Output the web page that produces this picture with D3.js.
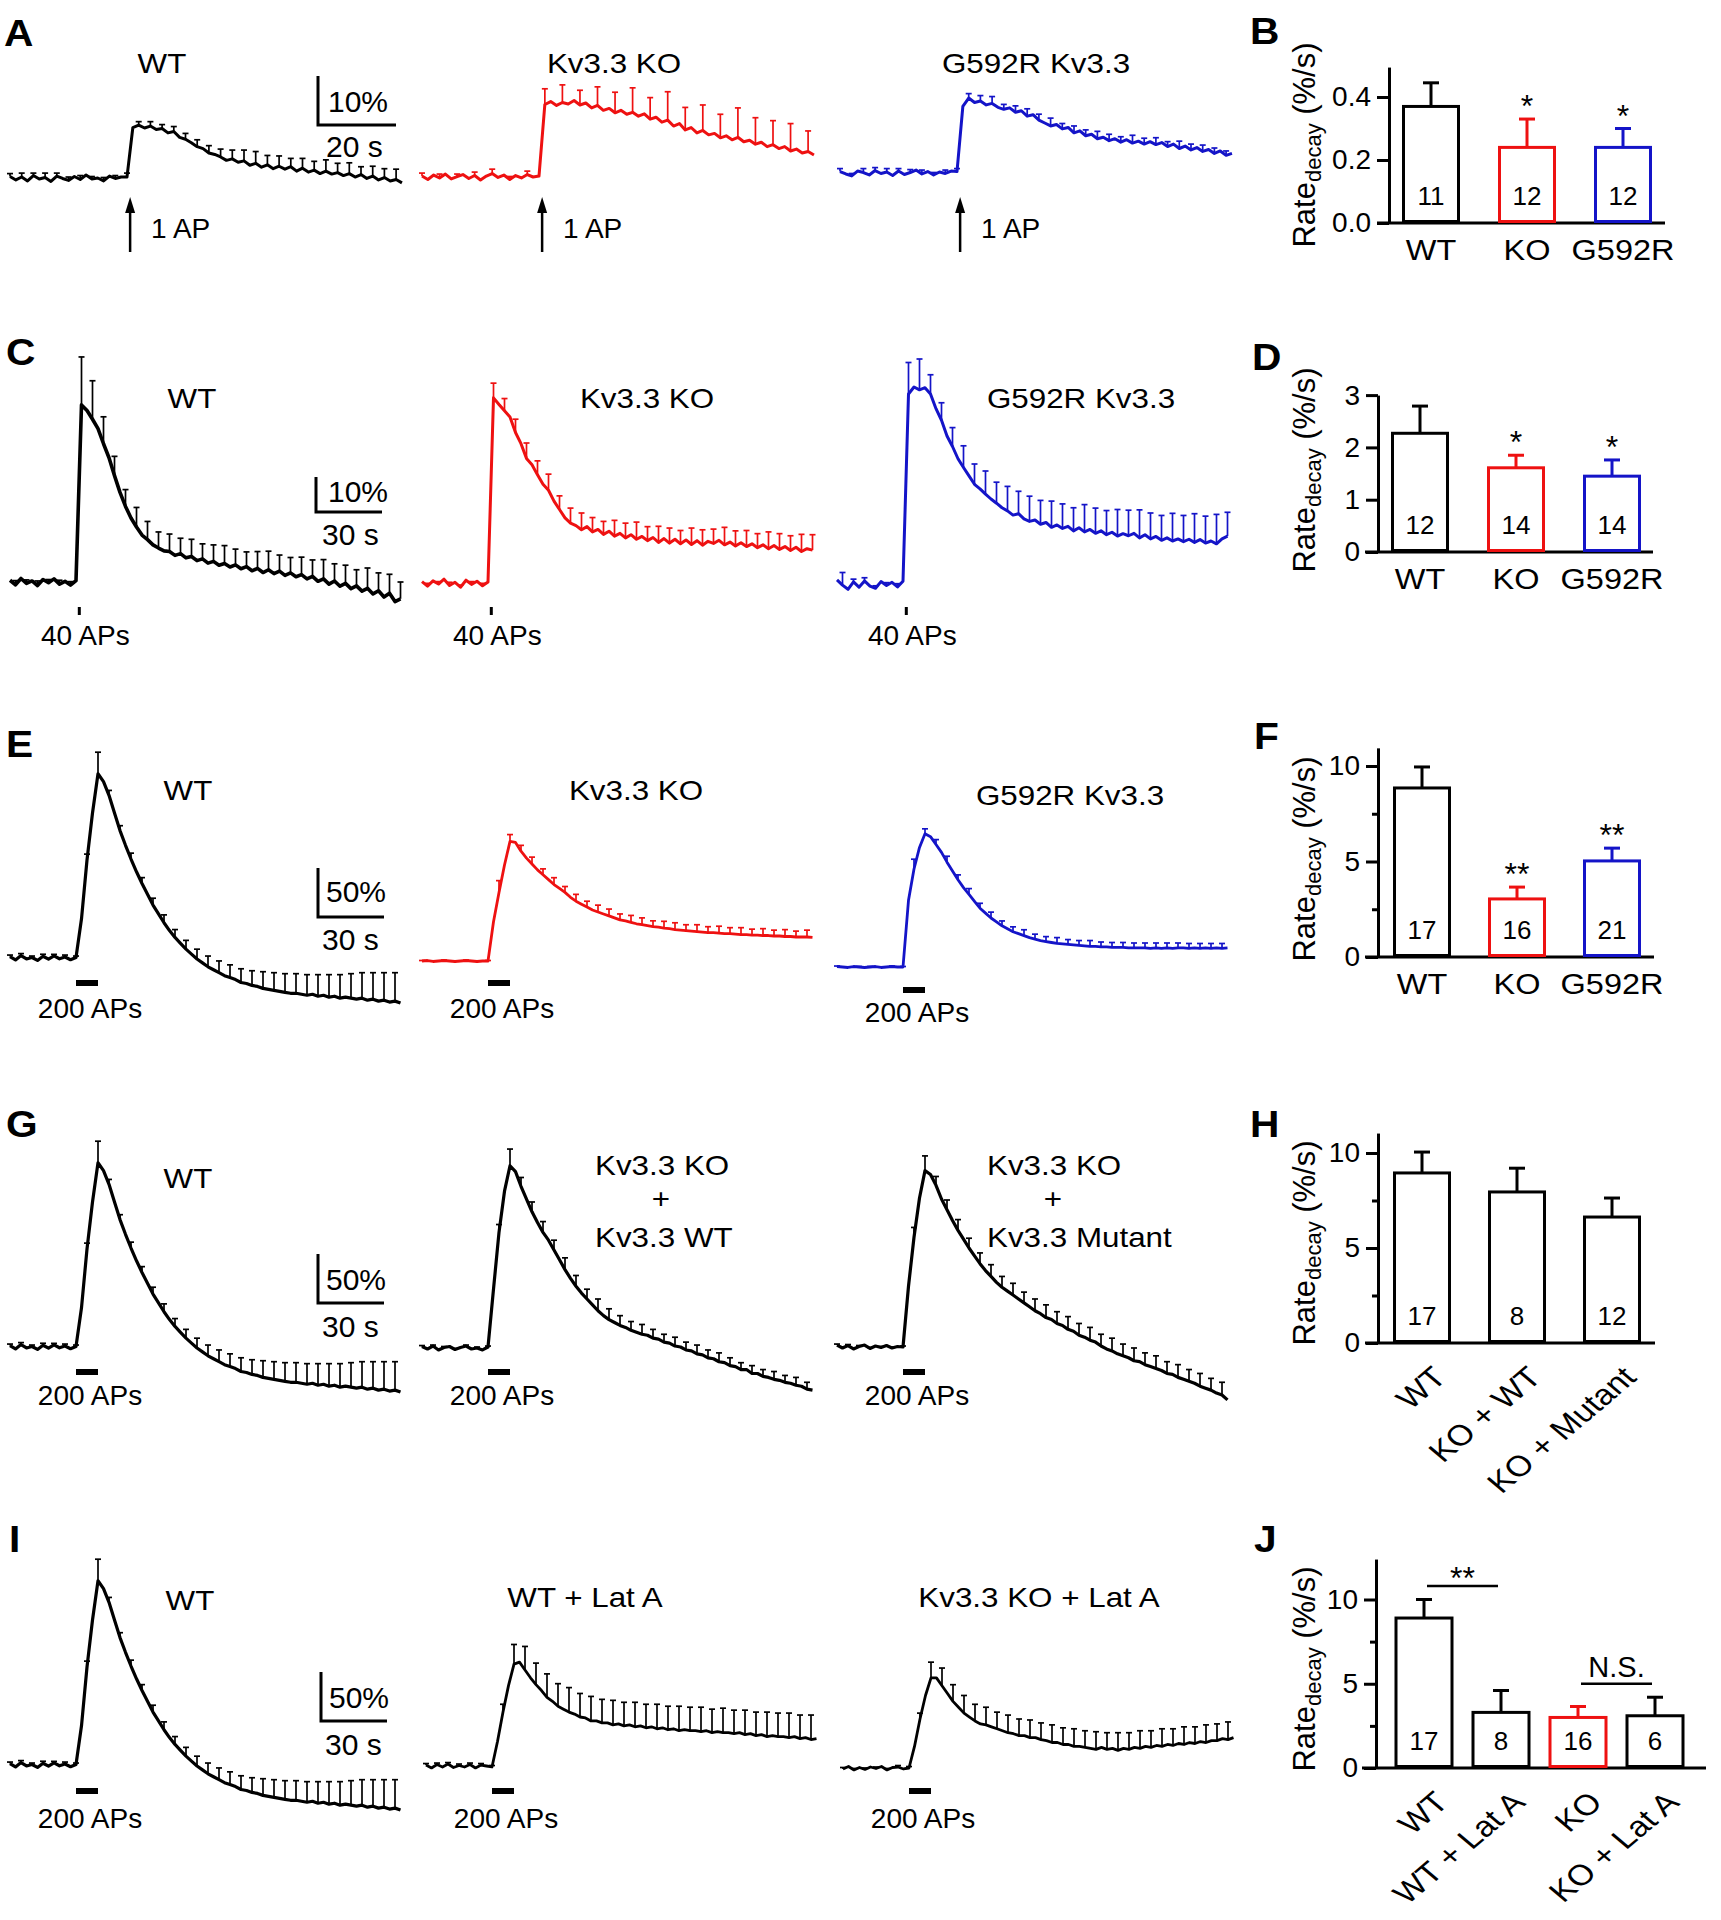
<!DOCTYPE html>
<html><head><meta charset="utf-8">
<script src="https://cdn.jsdelivr.net/npm/d3@7"></script>
<style>body{margin:0;background:#fff}</style>
</head><body>
<svg id="fig" width="1721" height="1920" xmlns="http://www.w3.org/2000/svg"></svg>
<script>
// ================= DATA =================
// Row A: 1 AP, sampled every 1.5 s (values in % dF/F)
const a_wt = [0.3,-0.4,0.2,-0.6,0.5,-0.2,0.1,-0.7,0.4,-0.1,-0.5,0.3,-0.3,0.6,-0.2,0.0,-0.6,0.4,-0.1,0.2,0.2,
 10.3,10.8,10.2,10.6,9.9,10.1,
 9.2,9.5,8.3,7.9,7.2,6.4,
 6.0,5.1,4.8,4.3,3.6,3.9,
 3.2,3.5,2.6,3.0,2.2,2.7,1.9,2.4,
 1.8,2.3,1.4,2.0,1.2,1.6,0.9,1.4,0.8,1.1,
 0.5,0.9,0.2,0.7,-0.1,0.4,-0.4,0.1,-0.6,-0.3,-1.0];
const a_wt_err = [0.6,0.8,0.5,0.9,0.6,0.7,0.8,0.5,0.7,0.6,0.8,0.7,0.9,0.8,1.0,1.2,1.4,1.5,1.6,1.8,2.2,2.4,1.9,2.1,1.7,2.0,1.8,2.3,1.9,2.2,1.6,2.0,1.8,2.1];
const a_ko = [0.2,-0.5,0.4,-0.2,0.6,-0.4,0.1,0.5,-0.3,0.3,-0.6,0.2,0.7,-0.1,0.4,-0.5,0.3,-0.2,0.5,0.0,0.2,
 14.8,15.4,14.6,15.2,14.9,15.6,14.7,15.1,
 14.1,14.6,13.6,14.0,13.1,13.6,12.8,13.2,
 12.4,12.9,11.8,12.2,11.2,11.6,10.4,10.9,
 9.6,10.1,9.0,9.5,8.6,8.9,8.0,8.4,
 7.6,8.1,7.2,7.5,6.7,7.1,6.2,6.6,
 5.8,6.2,5.3,5.7,4.9,5.2,4.5];
const a_ko_err = [0.6,0.8,0.5,0.7,0.9,0.6,0.7,3.2,3.6,3.0,3.8,4.2,5.0,4.4,5.8,4.6,5.2,4.8,6.0,5.4,4.9,5.6,4.2];
const a_g = [0.3,-0.2,-0.6,0.4,0.1,-0.4,0.5,-0.1,0.2,-0.5,0.4,-0.3,0.1,0.6,-0.2,0.3,-0.4,0.2,-0.1,0.4,0.3,
 13.6,15.3,14.4,14.7,13.9,14.2,13.4,13.0,
 13.3,12.4,12.7,11.6,11.9,10.8,10.2,9.6,
 9.9,9.0,9.3,8.2,8.6,7.6,7.9,7.0,
 7.3,6.6,7.0,6.3,6.8,6.1,6.5,5.9,
 6.4,5.8,6.2,5.4,5.9,5.0,5.5,4.7,
 5.2,4.4,4.8,4.0,4.5,3.6,4.0];
const a_g_err = [0.6,0.5,0.8,0.6,0.7,0.5,0.6,0.8,0.5,0.7,0.6,0.9,1.1,1.4,1.0,1.3,1.5,1.2,1.6,1.1,1.4,1.2,1.5,1.3,1.1,1.6,1.2,1.4,1.0,1.5,1.2,1.3,1.1,0.9];

// Row C: 40 APs, sampled every 2.5 s
const c_wt = [0.5,-0.8,1.0,-0.4,0.3,-1.0,0.7,-0.2,0.9,-0.6,0.2,-0.9,0.4,
 50.6,49.0,46.5,43.8,39.5,35.5,30.4,25.6,
 21.6,18.3,15.7,13.4,12.1,10.6,9.7,8.9,
 8.7,7.6,8.1,6.9,7.3,6.1,6.6,5.4,5.9,4.8,5.3,4.3,
 4.9,3.8,4.4,3.2,3.9,2.7,3.5,2.4,3.1,1.9,2.6,1.5,
 2.1,0.9,1.6,0.2,0.9,-0.6,0.3,-1.2,-0.4,-1.9,-1.1,
 -2.6,-1.8,-3.4,-2.5,-4.3,-3.2,-5.6,-4.8];
const c_wt_err = [1.2,1.0,1.3,0.9,1.1,1.0,13.7,11.0,7.7,5.5,4.8,5.6,5.2,4.6,5.0,4.4,4.9,4.3,4.7,5.1,4.5,4.2,4.8,5.3,4.6,4.4,5.0,4.7,5.5,4.9,5.2,4.6,5.8,5.1,5.4,4.8];
const c_ko = [0.4,-0.9,0.6,-0.3,1.1,-0.7,0.2,-1.2,0.8,-0.4,0.5,-0.8,0.3,
 52.9,51.0,49.2,47.4,43.0,39.8,35.6,33.8,
 30.9,28.2,26.5,23.4,21.0,18.6,17.1,16.4,
 15.2,16.1,14.6,15.3,13.9,14.8,13.4,14.2,12.9,13.8,12.5,13.3,
 12.1,13.0,11.6,12.7,11.4,12.5,11.2,12.3,11.0,12.1,10.8,11.9,
 11.3,12.2,10.9,11.7,10.6,11.5,10.4,11.2,10.1,10.9,9.8,
 10.7,9.6,10.4,9.3,10.2,9.0,9.8,9.4];
const c_ko_err = [0.8,0.7,0.9,0.6,0.8,0.7,4.2,3.5,3.8,4.4,4.0,4.6,3.9,4.3,4.8,4.1,3.7,4.5,4.2,4.9,4.0,4.6,4.3,3.8,4.7,4.4,4.1,5.0,4.3,4.6,4.0,4.8,4.5,4.2,4.9,4.4];
const c_g = [0.9,-0.6,-1.8,0.3,-1.2,0.6,-0.9,-1.5,0.4,-0.7,0.2,-1.1,0.5,
 54.0,56.0,55.2,55.8,54.0,49.8,46.5,42.0,
 39.0,35.5,33.0,30.6,28.2,26.9,25.4,24.0,
 22.8,21.5,20.6,19.4,19.8,18.3,17.6,18.0,16.8,17.3,15.9,16.6,
 15.6,16.2,14.9,15.8,14.6,15.3,14.2,14.9,13.8,14.5,13.4,14.1,
 13.5,14.2,12.9,13.8,12.6,13.3,12.2,12.9,12.0,12.6,11.8,
 12.5,11.6,12.4,11.4,12.0,11.2,12.6,13.4];
const c_g_err = [3.6,0.8,0.9,0.7,0.8,0.9,9.0,8.8,5.5,5.0,5.4,6.2,5.8,6.6,6.0,7.0,6.4,7.2,6.8,7.5,7.0,6.6,7.8,7.2,6.9,7.6,7.3,8.0,7.4,7.1,7.9,7.5,8.2,7.7,8.4,6.8];

// Rows E, G, I: 200 APs, sampled every 2.5 s
const wt200 = [1.5,-2.0,2.5,-1.0,0.5,-2.5,1.8,-1.2,2.2,-0.8,1.0,-1.8,0.5,
 40,100,148,188,180,
 166,148,130,115,101,88,76,65,54,45,36,28,21,15,9,4,
 -1,-5,-9,-12,-15,-18,-20,-22,-25,-26,-28,-29,-31,-32,-33,-34,-35,-36,-36,
 -37,-38,-37,-39,-38,-40,-39,-41,-40,-41,-42,-41,-43,-42,-44,-43,-45,-44,-46];
const wt200_err = [1.5,2,1.5,2,1.5,2,1.5,6,22,5,5,6,6,7,8,8,9,10,11,12,13,14,15,17,18,19,20,21,22,23,24,25,26,27,28,29];
const ko200 = [0,0.5,-0.5,0,0.5,0,-0.5,0,0.5,0,-0.5,0,0,
 40,70,98,122,121,112,105,99,93,88,83,78,74,70,65,61,58,55,52,50,48,46,44,42,41,39.5,38,37,36,35,
 34.5,33.5,33,32,31.5,31,30.5,30,29.5,29,29,28.5,28,28,27.5,27,27,26.5,26.5,26,26,25.5,25.5,25,25,24.5,24.5,24.5,24];
const ko200_err = [0.5,0.5,0.5,0.5,0.5,0.5,0.5,12,7,6,7,6,7,6,7,6,7,7,6,7,7,6,7,7,6,7,6,7,6,7,6,7,6,7,6,7];
const g200 = [0.5,0,-0.5,0.5,0,-0.5,0,0.5,-0.5,0,0.5,0,0,
 68,100,122,136,133,125,117,107,98,89,81,74,67,60,55,50,46,42,39,36,34,32,30,28.5,27,26,25,24,23.5,23,
 22.5,22,21.5,21,21,20.5,20.5,20,20,20,19.5,19.5,19.5,19.5,19,19.5,19,19.5,19,19.5,19.5,19,19.5,19,19.5,19,19.5,19,19.5];
const g200_err = [0.5,0.5,0.5,0.5,0.5,0.5,0.5,10,5,5,6,5,6,5,6,5,5,6,5,5,6,5,5,6,5,5,5,5,5,5,5,5,5,5,5,5];
const kowt200 = [1.5,-1.0,2.0,-2.0,0.5,1.5,-1.5,0.5,2.0,-1.0,0.0,-2.0,1.0,
 60,118,160,186,180,165,152,139,128,118,110,100,90,80,71,63,56,50,44,38,33,29,26,23,21,18,16,14,13,10,
 9,6,5,2,1,-2,-3,-6,-7,-10,-11,-14,-15,-18,-19,-22,-22,-26,-26,-29,-30,-32,-33,-35,-36,-38,-39,-42,-43];
const kowt200_err = [1,1,1,1,1,1,1,8,17,9,10,11,10,12,11,10,12,11,10,9,10,9,8,9,8,9,8,9,8,7,8,7,8,7,8,7];
const mut200 = [2,-1,1.5,-2,0.5,2,-1.5,1,-0.5,1.5,-1,0.5,0,
 62,112,152,180,176,165,151,140,129,119,110,101,93,85,78,72,66,61,57,53,49,45,41,37,34,30,28,24,22,18,
 16,12,10,7,5,1,-2,-4,-7,-9,-11,-14,-15,-18,-20,-22,-24,-27,-28,-31,-33,-35,-37,-40,-42,-44,-47,-49,-54];
const mut200_err = [1,1,1,1,1,1,1,10,15,9,10,11,10,11,12,11,12,11,12,13,12,13,12,13,12,13,12,13,12,13,12,13,12,13,12,13];
const wtlat200 = [1,-2,1.5,-1,2,-1.5,0.5,-1,1.5,-2,1,0,-1,
 25,55,82,104,106,98,90,83,77,70,66,61,58,55,53,50,49,46,46,44,44,42,43,41,42,40,41,39,40,38,
 39,37,38,36,37,36,36,35,36,34,35,34,34,33,34,32,33,31,32,30,31,30,30,29,30,28,29,27,28];
const wtlat200_err = [1.5,1.5,1.5,1.5,1.5,1.5,1.5,8,20,24,22,24,23,25,24,25,24,25,24,25,24,25,24,25,24,25,24,25,24,25,24,25,24,25,24,25];
const kolat200 = [-1,1.5,-2,0.5,-1.5,1,-0.5,1.5,-2,0.5,1,-1,0,
 22,50,74,92,92,84,76,68,62,56,52,48,45,44,42,40,38,36,35,33,33,31,31,29,28,26,26,24,24,22,
 22,21,20,19,21,19,20,18,20,19,21,20,22,21,23,22,24,23,25,24,26,25,27,26,28,28,30,29,31];
const kolat200_err = [1.5,1.5,1.5,1.5,1.5,1.5,1.5,6,16,18,17,18,17,18,17,18,17,18,17,18,17,18,17,18,17,18,17,18,17,18,17,18,17,18,17,18];

// Bar charts (Rate_decay, %/s)
const bCats = ["WT","KO","G592R"], bVals = [0.37,0.24,0.24], bSems = [0.075,0.09,0.06], bN = ["11","12","12"], bSig = ["","*","*"];
const dCats = ["WT","KO","G592R"], dVals = [2.27,1.61,1.45], dSems = [0.52,0.24,0.31], dN = ["12","14","14"], dSig = ["","*","*"];
const fCats = ["WT","KO","G592R"], fVals = [8.85,3.04,5.03], fSems = [1.1,0.62,0.67], fN = ["17","16","21"], fSig = ["","**","**"];
const hCats = ["WT","KO + WT","KO + Mutant"], hVals = [8.95,7.95,6.63], hSems = [1.1,1.25,1.0], hN = ["17","8","12"], hSig = ["","",""];
const jCats = ["WT","WT + Lat A","KO","KO + Lat A"], jVals = [8.9,3.3,3.0,3.1], jSems = [1.1,1.3,0.65,1.1], jN = ["17","8","16","6"], jSig = ["","","",""];
const jComps = [["WT","WT + Lat A","**",10.8],["KO","KO + Lat A","N.S.",5.0]];
const ticksB = [0,0.2,0.4], ticksD = [0,1,2,3], ticks10 = [0,5,10], minor10 = [2.5,7.5];

// ================= DRAWING =================
const FONT = '"Liberation Sans", Arial, Helvetica, sans-serif';
const BLACK = "#000", RED = "#ee1111", BLUE = "#1414c8";
const svg = d3.select("#fig");

function txt(x, y, s, o = {}) {
  return svg.append("text")
    .attr("transform", `translate(${x},${y}) scale(${o.sx ?? 1.06},1)`)
    .attr("text-anchor", o.anchor || "start")
    .attr("font-family", FONT)
    .attr("font-size", o.size || 28)
    .attr("font-weight", o.weight || "normal")
    .attr("fill", o.color || BLACK)
    .text(s);
}

function drawTrace(c) {
  const n = c.values.length, tmax = (n - 1) * c.dt;
  const x = d3.scaleLinear().domain([0, tmax]).range([c.x0, c.x0 + tmax * c.pxS]);
  const y = d3.scaleLinear().domain([0, 100]).range([c.y0, c.y0 - 100 * c.pxP]);
  const g = svg.append("g").attr("stroke", c.color).attr("fill", "none");
  const eb = c.errs.map((e, k) => ({ i: c.off + k * c.every, e })).filter(d => d.i < n);
  g.selectAll("line.e").data(eb).join("line")
    .attr("x1", d => x(d.i * c.dt)).attr("x2", d => x(d.i * c.dt))
    .attr("y1", d => y(c.values[d.i])).attr("y2", d => y(c.values[d.i] + d.e))
    .attr("stroke-width", 1.7);
  g.selectAll("line.c").data(eb).join("line")
    .attr("x1", d => x(d.i * c.dt) - 3).attr("x2", d => x(d.i * c.dt) + 3)
    .attr("y1", d => y(c.values[d.i] + d.e)).attr("y2", d => y(c.values[d.i] + d.e))
    .attr("stroke-width", 1.7);
  g.append("path").datum(c.values)
    .attr("d", d3.line().x((d, i) => x(i * c.dt)).y(d => y(d)))
    .attr("stroke-width", c.sw || 2.8).attr("stroke-linejoin", "round");
  return { x, y };
}

function scaleBar(sc, cx, cy, sec, pct, lp, ls, pPos, sPos) {
  const w = sc.x(sec) - sc.x(0), h = sc.y(0) - sc.y(pct);
  svg.append("path").attr("d", `M${cx},${cy - h}V${cy}H${cx + w}`)
    .attr("fill", "none").attr("stroke", BLACK).attr("stroke-width", 3);
  txt(pPos[0], pPos[1], lp, { size: 30, sx: 1.0 });
  txt(sPos[0], sPos[1], ls, { size: 30, sx: 1.0 });
}

// ---- Row A ----
const rowA = { dt: 1.5, pxS: 3.9, pxP: 4.9 };
const aPanels = [
  { values: a_wt, errs: a_wt_err, every: 2, off: 0, x0: 10, y0: 178, color: BLACK },
  { values: a_ko, errs: a_ko_err, every: 3, off: 0, x0: 422, y0: 177, color: RED },
  { values: a_g, errs: a_g_err, every: 2, off: 0, x0: 840, y0: 173, color: BLUE }];
const aSc = aPanels.map(p => drawTrace({ ...rowA, ...p, sw: 3.0 }));
aSc.forEach(sc => {
  const ax = sc.x(30.8);
  svg.append("line").attr("x1", ax).attr("x2", ax).attr("y1", 252).attr("y2", 210)
    .attr("stroke", BLACK).attr("stroke-width", 2.5);
  svg.append("path").attr("d", `M${ax},197L${ax - 5},213L${ax + 5},213Z`).attr("fill", BLACK);
  txt(ax + 21, 238, "1 AP", { sx: 1.0 });
});
scaleBar(aSc[0], 318, 125, 20, 10, "10%", "20 s", [328, 112], [326, 157]);
txt(162, 73, "WT", { anchor: "middle", sx: 1.12 });
txt(614, 73, "Kv3.3 KO", { anchor: "middle", sx: 1.12 });
txt(1036, 73, "G592R Kv3.3", { anchor: "middle", sx: 1.12 });

// ---- Row C ----
const rowC = { dt: 2.5, pxS: 2.2, pxP: 3.5, every: 2, off: 1 };
const cPanels = [
  { values: c_wt, errs: c_wt_err, x0: 10, y0: 582, color: BLACK, sw: 3.6 },
  { values: c_ko, errs: c_ko_err, x0: 422, y0: 583, color: RED, sw: 3.0 },
  { values: c_g, errs: c_g_err, x0: 837, y0: 583, color: BLUE, sw: 3.0 }];
const cSc = cPanels.map(p => drawTrace({ ...rowC, ...p }));
cSc.forEach(sc => {
  const sx = sc.x(31.5);
  svg.append("rect").attr("x", sx - 1.5).attr("y", 607).attr("width", 3).attr("height", 8).attr("fill", BLACK);
  txt(sx + 6, 645, "40 APs", { anchor: "middle", sx: 1.0 });
});
scaleBar(cSc[0], 316, 512, 30, 10, "10%", "30 s", [328, 502], [322, 545]);
txt(192, 408, "WT", { anchor: "middle", sx: 1.12 });
txt(647, 408, "Kv3.3 KO", { anchor: "middle", sx: 1.12 });
txt(1081, 408, "G592R Kv3.3", { anchor: "middle", sx: 1.12 });

// ---- Rows E, G, I ----
const row200 = { dt: 2.5, pxS: 2.2, pxP: 0.98, every: 2, off: 0 };
function stimBar(sc, y, ty) {
  svg.append("rect").attr("x", sc.x(30)).attr("y", y).attr("width", sc.x(40) - sc.x(30)).attr("height", 6).attr("fill", BLACK);
  txt(sc.x(35) + 3, ty, "200 APs", { anchor: "middle", sx: 1.0 });
}
const ePanels = [
  { values: wt200, errs: wt200_err, x0: 10, y0: 958, color: BLACK, sw: 3.2 },
  { values: ko200, errs: ko200_err, x0: 422, y0: 961, color: RED },
  { values: g200, errs: g200_err, x0: 837, y0: 967, color: BLUE }];
const eSc = ePanels.map(p => drawTrace({ ...row200, ...p }));
stimBar(eSc[0], 980, 1018); stimBar(eSc[1], 980, 1018); stimBar(eSc[2], 987, 1022);
scaleBar(eSc[0], 318, 917, 30, 50, "50%", "30 s", [326, 902], [322, 950]);
txt(188, 800, "WT", { anchor: "middle", sx: 1.12 });
txt(636, 800, "Kv3.3 KO", { anchor: "middle", sx: 1.12 });
txt(1070, 805, "G592R Kv3.3", { anchor: "middle", sx: 1.12 });

const gPanels = [
  { values: wt200, errs: wt200_err, x0: 10, y0: 1347, color: BLACK, sw: 3.2 },
  { values: kowt200, errs: kowt200_err, x0: 422, y0: 1348, color: BLACK, sw: 3.2 },
  { values: mut200, errs: mut200_err, x0: 837, y0: 1347, color: BLACK, sw: 3.2 }];
const gSc = gPanels.map(p => drawTrace({ ...row200, ...p }));
gSc.forEach(sc => stimBar(sc, 1369, 1405));
scaleBar(gSc[0], 318, 1303, 30, 50, "50%", "30 s", [326, 1290], [322, 1337]);
txt(188, 1188, "WT", { anchor: "middle", sx: 1.12 });
txt(595, 1175, "Kv3.3 KO", { sx: 1.12 });
txt(661, 1208, "+", { anchor: "middle", sx: 1.12 });
txt(595, 1247, "Kv3.3 WT", { sx: 1.12 });
txt(987, 1175, "Kv3.3 KO", { sx: 1.12 });
txt(1053, 1208, "+", { anchor: "middle", sx: 1.12 });
txt(987, 1247, "Kv3.3 Mutant", { sx: 1.12 });

const iPanels = [
  { values: wt200, errs: wt200_err, x0: 10, y0: 1765, color: BLACK, sw: 3.2 },
  { values: wtlat200, errs: wtlat200_err, x0: 426, y0: 1766, color: BLACK },
  { values: kolat200, errs: kolat200_err, x0: 843, y0: 1768, color: BLACK }];
const iSc = iPanels.map(p => drawTrace({ ...row200, ...p }));
iSc.forEach(sc => stimBar(sc, 1788, 1828));
scaleBar(iSc[0], 321, 1721, 30, 50, "50%", "30 s", [329, 1708], [325, 1755]);
txt(190, 1610, "WT", { anchor: "middle", sx: 1.12 });
txt(585, 1607, "WT + Lat A", { anchor: "middle", sx: 1.12 });
txt(1039, 1607, "Kv3.3 KO + Lat A", { anchor: "middle", sx: 1.12 });

// ---- Bar charts ----
function drawBars(c) {
  const y = d3.scaleLinear().domain([0, c.yMax]).range([c.y0, c.y0 - c.yMax * c.pxU]);
  const xc = d3.scalePoint().domain(c.cats).range([c.c0, c.c1]);
  const bw = c.bw || 55;
  const ax = svg.append("g").attr("transform", `translate(${c.axisX},0)`)
    .call(d3.axisLeft(y).tickValues(c.ticks).tickSize(12).tickPadding(6).tickSizeOuter(0).tickFormat(c.fmt || (d => d)));
  ax.attr("font-family", FONT).attr("font-size", 28);
  ax.selectAll("path,line").attr("stroke", BLACK).attr("stroke-width", 3);
  ax.selectAll("text").attr("fill", BLACK);
  if (c.minor) {
    const mn = svg.append("g").attr("transform", `translate(${c.axisX},0)`)
      .call(d3.axisLeft(y).tickValues(c.minor).tickSize(6).tickFormat("").tickSizeOuter(0));
    mn.select(".domain").remove();
    mn.selectAll("line").attr("stroke", BLACK).attr("stroke-width", 3);
  }
  svg.append("line").attr("x1", c.line[0]).attr("x2", c.line[1]).attr("y1", c.y0).attr("y2", c.y0)
    .attr("stroke", BLACK).attr("stroke-width", 3);
  c.cats.forEach((k, i) => {
    const cx = xc(k), col = c.colors[i], v = c.vals[i], s = c.sems[i];
    svg.append("line").attr("x1", cx).attr("x2", cx).attr("y1", y(v)).attr("y2", y(v + s)).attr("stroke", col).attr("stroke-width", 3);
    svg.append("line").attr("x1", cx - 8).attr("x2", cx + 8).attr("y1", y(v + s)).attr("y2", y(v + s)).attr("stroke", col).attr("stroke-width", 3);
    svg.append("rect").attr("x", cx - bw / 2).attr("y", y(v)).attr("width", bw).attr("height", c.y0 - y(v) - 1.5)
      .attr("fill", "#fff").attr("stroke", col).attr("stroke-width", 3);
    txt(cx, c.y0 - 18, c.ns[i], { anchor: "middle", size: 26, sx: 1.0 });
    if (c.sig[i]) txt(cx, y(v + s) - 2, c.sig[i], { anchor: "middle", size: 32, sx: 1.0 });
    if (c.rotate) {
      svg.append("text").attr("transform", `translate(${cx + 26},${c.y0 + 36}) scale(1.18,1) rotate(-45)`)
        .attr("text-anchor", "end").attr("font-family", FONT).attr("font-size", 29).text(k);
    } else {
      txt(cx, c.y0 + 37, k, { anchor: "middle", sx: 1.12, size: 29 });
    }
  });
  const yl = svg.append("text").attr("transform", `translate(1315,${c.ylabelY}) rotate(-90)`)
    .attr("text-anchor", "middle").attr("font-family", FONT).attr("font-size", 31);
  yl.append("tspan").text("Rate");
  yl.append("tspan").attr("font-size", 22).attr("dy", 6).text("decay");
  yl.append("tspan").attr("dy", -6).text(" (%/s)");
  if (c.comps) c.comps.forEach(([a, b, lab, lv]) => {
    const ly = y(lv);
    svg.append("line").attr("x1", xc(a) + 3).attr("x2", xc(b) - 3).attr("y1", ly).attr("y2", ly).attr("stroke", BLACK).attr("stroke-width", 2.5);
    const mid = (xc(a) + xc(b)) / 2;
    if (lab === "N.S.") txt(mid, ly - 7, lab, { anchor: "middle", size: 29, sx: 1.0 });
    else txt(mid, ly + 3, lab, { anchor: "middle", size: 32, sx: 1.0 });
  });
}
drawBars({ cats: bCats, vals: bVals, sems: bSems, ns: bN, sig: bSig, colors: [BLACK, RED, BLUE],
  axisX: 1389, y0: 223, yMax: 0.495, pxU: 315, ticks: ticksB, fmt: d3.format(".1f"), c0: 1431, c1: 1623, line: [1377, 1665], ylabelY: 145 });
drawBars({ cats: dCats, vals: dVals, sems: dSems, ns: dN, sig: dSig, colors: [BLACK, RED, BLUE],
  axisX: 1378, y0: 552, yMax: 3, pxU: 52.3, ticks: ticksD, c0: 1420, c1: 1612, line: [1365, 1653], ylabelY: 470 });
drawBars({ cats: fCats, vals: fVals, sems: fSems, ns: fN, sig: fSig, colors: [BLACK, RED, BLUE],
  axisX: 1378, y0: 957, yMax: 10.95, pxU: 19.1, ticks: ticks10, minor: minor10, c0: 1422, c1: 1612, line: [1365, 1654], ylabelY: 859 });
drawBars({ cats: hCats, vals: hVals, sems: hSems, ns: hN, sig: hSig, colors: [BLACK, BLACK, BLACK], rotate: true,
  axisX: 1378, y0: 1343, yMax: 11.05, pxU: 19.0, ticks: ticks10, minor: minor10, c0: 1422, c1: 1612, line: [1365, 1655], ylabelY: 1243 });
drawBars({ cats: jCats, vals: jVals, sems: jSems, ns: jN, sig: jSig, colors: [BLACK, BLACK, RED, BLACK], rotate: true, comps: jComps, bw: 56,
  axisX: 1376, y0: 1768, yMax: 12.4, pxU: 16.85, ticks: ticks10, minor: minor10, c0: 1424, c1: 1655, line: [1362, 1706], ylabelY: 1669 });

// ---- Panel letters ----
[["A", 4, 46], ["B", 1250, 44], ["C", 6, 365], ["D", 1252, 370], ["E", 6, 757], ["F", 1254, 749],
 ["G", 6, 1137], ["H", 1250, 1137], ["I", 9, 1552], ["J", 1254, 1552]]
  .forEach(([l, x, y]) => txt(x, y, l, { size: 37, weight: "bold", sx: 1.1 }));
</script>
</body></html>
